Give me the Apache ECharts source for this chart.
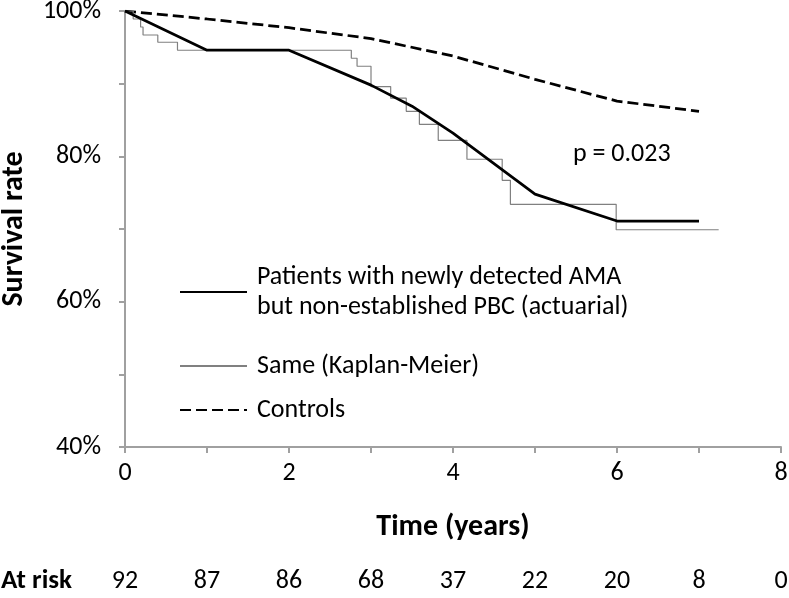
<!DOCTYPE html>
<html>
<head>
<meta charset="utf-8">
<script src="https://cdn.jsdelivr.net/npm/echarts@6/dist/echarts.min.js"></script>
<style>
html,body{margin:0;padding:0;background:#fff;}
#c{width:789px;height:598px;}
</style>
</head>
<body>
<div id="c"></div>
<script>
// ---- data ----
const actuarialT = [0, 1, 2, 3, 3.5, 4, 5, 6, 7];
const actuarialV = [100, 94.6, 94.6, 89.8, 86.9, 83.2, 74.8, 71.1, 71.1];

const kmT = [0, 0.10, 0.19, 0.22, 0.40, 0.64, 2.76, 2.83, 3.0, 3.24, 3.43, 3.59, 3.82, 4.17, 4.60, 4.70, 5.99, 7.24];
const kmV = [100, 98.9, 97.8, 96.7, 95.7, 94.6, 93.5, 92.4, 89.6, 88.0, 86.2, 84.4, 82.2, 79.6, 76.7, 73.4, 69.9, 69.9];

const controlT = [0, 1, 2, 3, 4, 5, 6, 7];
const controlV = [100, 98.9, 97.7, 96.2, 93.8, 90.6, 87.6, 86.2];

const atRisk = [92, 87, 86, 68, 37, 22, 20, 8, 0];

const seriesNames = [
  'Patients with newly detected AMA\nbut non-established PBC (actuarial)',
  'Same (Kaplan-Meier)',
  'Controls'
];
const pText = 'p = 0.023';

// ---- chart ----
const zip = (a, b) => a.map((x, i) => [x, b[i]]);
const FONT = 'Carlito, Lato, sans-serif';
const FS = 26;
const FSB = 30;
const axisGray = '#a0a0a0';

const chart = echarts.init(document.getElementById('c'), null, {renderer: 'canvas'});
chart.setOption({
  animation: false,
  backgroundColor: '#fff',
  textStyle: {fontFamily: FONT},
  grid: {left: 125, right: 8, top: 11, bottom: 151, containLabel: false, outerBoundsMode: 'none'},
  title: {
    text: pText, left: 568, top: 136,
    textStyle: {fontFamily: FONT, fontSize: FS, fontWeight: 'normal', color: '#000'}
  },
  legend: {
    orient: 'vertical', left: 174, top: 242,
    itemWidth: 67, itemHeight: 14, itemGap: 14,
    itemStyle: {opacity: 0},
    textStyle: {fontFamily: FONT, fontSize: FS, color: '#000', lineHeight: 30, padding: [0, 0, 0, 5]},
    data: [
      {name: seriesNames[0], textStyle: {padding: [30, 0, 0, 5]}},
      {name: seriesNames[1]},
      {name: seriesNames[2]}
    ]
  },
  xAxis: [{
    type: 'value', min: 0, max: 8, interval: 1,
    name: 'Time (years)', nameLocation: 'middle', nameGap: 65,
    nameTextStyle: {fontFamily: FONT, fontSize: FSB, fontWeight: 'bold', color: '#000'},
    axisLine: {lineStyle: {color: axisGray, width: 2}},
    axisTick: {length: 6, lineStyle: {color: axisGray, width: 2}},
    axisLabel: {
      fontFamily: FONT, fontSize: FS, color: '#000', margin: 13,
      formatter: v => (v % 2 === 0 ? String(v) : '')
    },
    splitLine: {show: false}
  }, {
    type: 'value', min: 0, max: 8, interval: 1, position: 'bottom', offset: 134,
    name: 'At risk', nameLocation: 'start', nameGap: 53,
    nameTextStyle: {fontFamily: FONT, fontSize: 27, fontWeight: 'bold', color: '#000'},
    axisLine: {show: false}, axisTick: {show: false}, splitLine: {show: false},
    axisLabel: {
      fontFamily: FONT, fontSize: FS, color: '#000', margin: 0, verticalAlign: 'middle',
      formatter: v => String(atRisk[Math.round(v)])
    }
  }],
  yAxis: {
    type: 'value', min: 40, max: 100, interval: 10,
    name: 'Survival rate', nameLocation: 'middle', nameRotate: 90, nameGap: 96,
    nameTextStyle: {fontFamily: FONT, fontSize: FSB, fontWeight: 'bold', color: '#000'},
    axisLine: {show: true, lineStyle: {color: axisGray, width: 2}},
    axisTick: {show: true, length: 6, lineStyle: {color: axisGray, width: 2}},
    axisLabel: {
      fontFamily: FONT, fontSize: FS, color: '#000', margin: 24,
      formatter: v => (v % 20 === 0 ? v + '%' : '')
    },
    splitLine: {show: false}
  },
  series: [{
    name: seriesNames[0], type: 'line', symbol: 'none', z: 4,
    data: zip(actuarialT, actuarialV),
    lineStyle: {color: '#000', width: 2.75},
    itemStyle: {color: '#000', opacity: 0}
  }, {
    name: seriesNames[1], type: 'line', step: 'end', symbol: 'none', z: 3,
    data: zip(kmT, kmV),
    lineStyle: {color: '#808080', width: 1.2},
    itemStyle: {color: '#808080', opacity: 0}
  }, {
    name: seriesNames[2], type: 'line', symbol: 'none', z: 2,
    data: zip(controlT, controlV),
    lineStyle: {color: '#000', width: 2.75, type: [11, 5]},
    itemStyle: {color: '#000', opacity: 0}
  }]
});
</script>
</body>
</html>
